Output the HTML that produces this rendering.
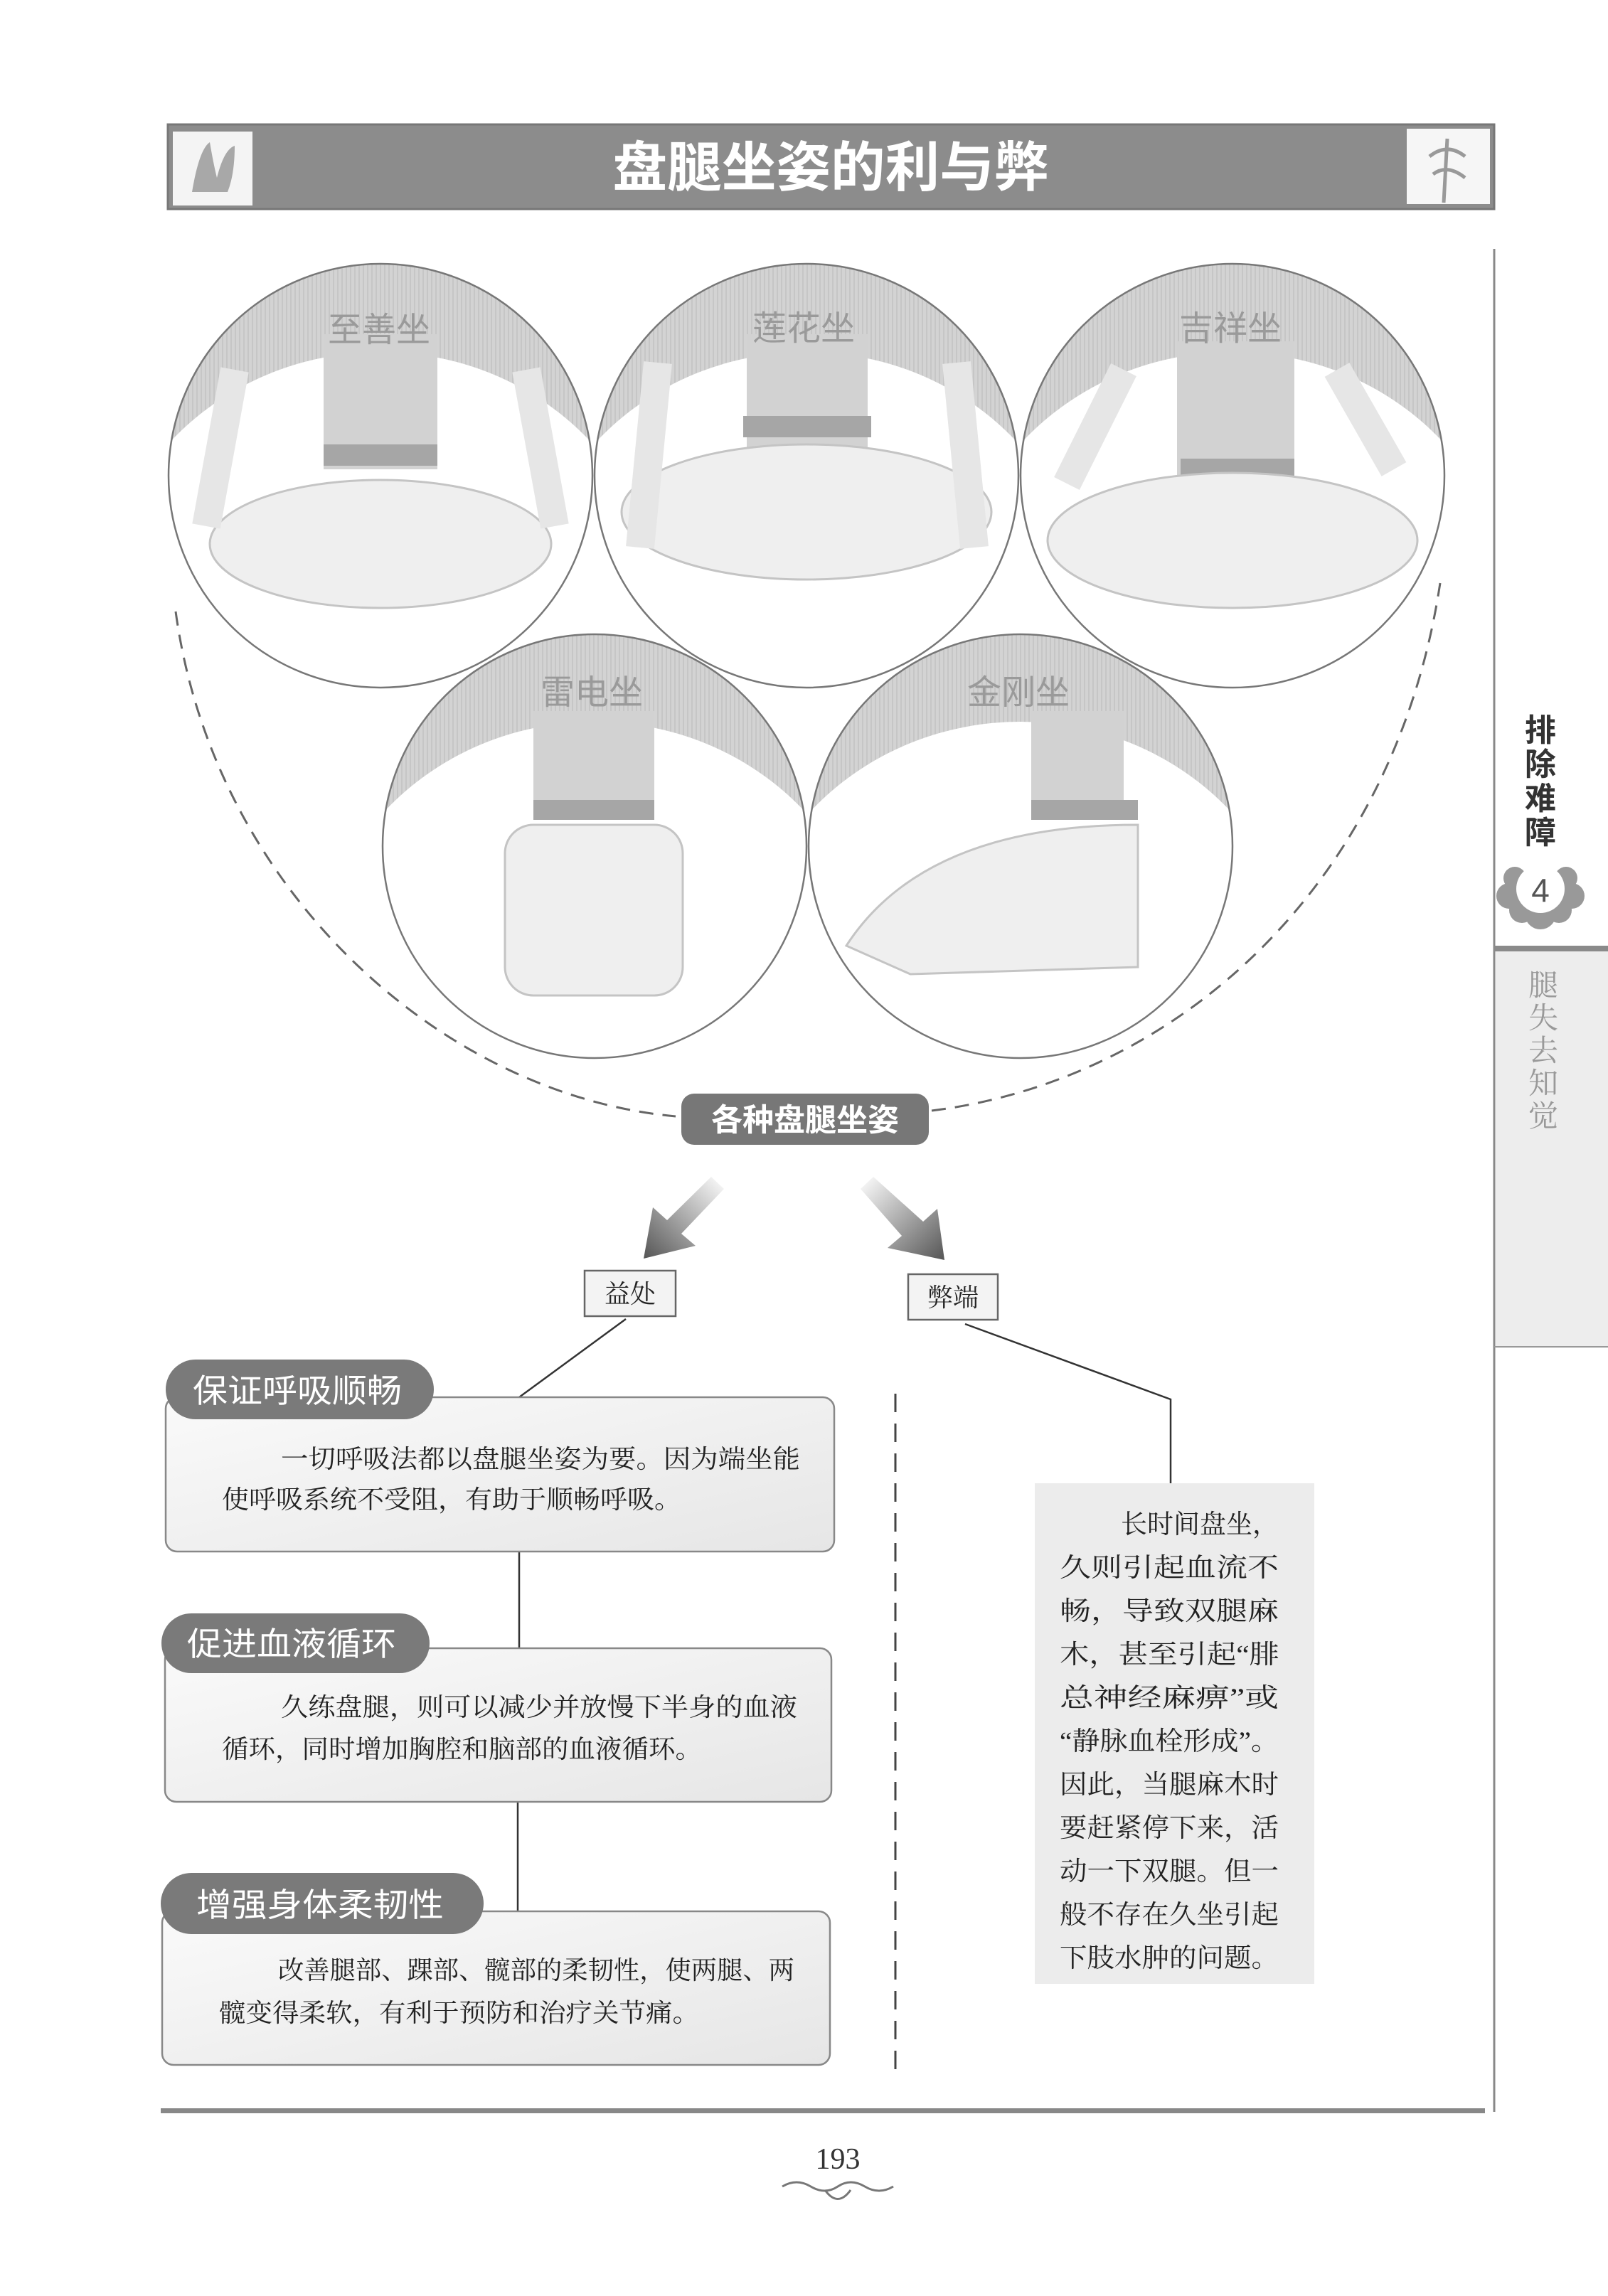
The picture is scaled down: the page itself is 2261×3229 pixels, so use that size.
<!DOCTYPE html>
<html><head><meta charset="utf-8"><style>
html,body{margin:0;padding:0;background:#fff}
svg{display:block}
.s{font-family:"Liberation Serif","Noto Serif CJK SC",serif}
.h{font-family:"Liberation Sans","Noto Sans CJK SC",sans-serif}
</style></head><body>
<svg width="2261" height="3229" viewBox="0 0 2261 3229" xmlns="http://www.w3.org/2000/svg">
<defs>
<pattern id="st" width="6" height="6" patternUnits="userSpaceOnUse"><rect width="6" height="6" fill="#d3d3d3"/><rect width="2" height="6" fill="#c6c6c6"/></pattern>
<linearGradient id="bx" x1="0" y1="0" x2="1" y2="1"><stop offset="0" stop-color="#fafafa"/><stop offset="1" stop-color="#e6e6e6"/></linearGradient>
<linearGradient id="ar1" x1="1" y1="0" x2="0" y2="1"><stop offset="0" stop-color="#fff"/><stop offset="1" stop-color="#555"/></linearGradient>
<linearGradient id="ar2" x1="0" y1="0" x2="1" y2="1"><stop offset="0" stop-color="#fff"/><stop offset="1" stop-color="#555"/></linearGradient>
<clipPath id="c1"><circle cx="535" cy="669" r="298"/></clipPath>
<clipPath id="c2"><circle cx="1134" cy="669" r="298"/></clipPath>
<clipPath id="c3"><circle cx="1733" cy="669" r="298"/></clipPath>
<clipPath id="c4"><circle cx="836" cy="1190" r="298"/></clipPath>
<clipPath id="c5"><circle cx="1435" cy="1190" r="298"/></clipPath>
</defs>

<!-- title bar -->
<rect x="236" y="175" width="1865" height="119" fill="#8c8c8c" stroke="#777" stroke-width="3"/>
<rect x="243" y="185" width="112" height="104" fill="#f4f4f4"/>
<path d="M270 270 q10 -60 25 -70 q5 30 10 50 q10 -40 25 -45 q0 40 -10 65 z" fill="#a8a8a8"/>
<rect x="1978" y="181" width="117" height="106" fill="#f6f6f6"/>
<path d="M2030 285 l5 -90 M2010 220 q25 -20 50 0 M2015 245 q20 -15 45 5" stroke="#999" stroke-width="5" fill="none"/>
<text x="1168" y="262" text-anchor="middle" class="h" font-size="76" font-weight="bold" fill="#fff" textLength="613" lengthAdjust="spacingAndGlyphs">盘腿坐姿的利与弊</text>

<!-- right margin -->
<line x1="2101" y1="350" x2="2101" y2="2970" stroke="#888" stroke-width="3"/>
<rect x="2103" y="1336" width="158" height="560" fill="#ededed"/>
<rect x="2101" y="1330" width="160" height="8" fill="#8a8a8a"/>
<line x1="2101" y1="1894" x2="2261" y2="1894" stroke="#999" stroke-width="2"/>
<g class="h" font-size="44" font-weight="bold" fill="#333" text-anchor="middle">
<text x="2166" y="1042">排</text><text x="2166" y="1090">除</text><text x="2166" y="1138">难</text><text x="2166" y="1186">障</text></g>
<g fill="#999"><circle cx="2122" cy="1260" r="18"/><circle cx="2210" cy="1260" r="18"/><circle cx="2130" cy="1235" r="16"/><circle cx="2202" cy="1235" r="16"/><circle cx="2166" cy="1285" r="22"/><circle cx="2140" cy="1280" r="18"/><circle cx="2192" cy="1280" r="18"/></g>
<circle cx="2166" cy="1250" r="34" fill="#fff"/>
<text x="2166" y="1268" text-anchor="middle" class="h" font-size="46" fill="#555">4</text>
<g class="s" font-size="42" fill="#999" text-anchor="middle">
<text x="2170" y="1400">腿</text><text x="2170" y="1446">失</text><text x="2170" y="1492">去</text><text x="2170" y="1538">知</text><text x="2170" y="1584">觉</text></g>

<!-- dashed arc -->
<path d="M247 860 C 300 1250 620 1540 950 1570" fill="none" stroke="#666" stroke-width="3" stroke-dasharray="20 13"/>
<path d="M1310 1562 C 1650 1520 1960 1250 2025 820" fill="none" stroke="#666" stroke-width="3" stroke-dasharray="20 13"/>

<!-- circles -->
<g clip-path="url(#c1)"><rect x="230" y="360" width="610" height="620" fill="url(#st)"/><ellipse cx="535" cy="870" rx="395" ry="375" fill="#fff"/>
<rect x="455" y="470" width="160" height="190" fill="#d2d2d2"/><rect x="455" y="625" width="160" height="30" fill="#a6a6a6"/>
<ellipse cx="535" cy="765" rx="240" ry="90" fill="#efefef" stroke="#c4c4c4" stroke-width="3"/><path d="M330 520 L290 740 M740 520 L780 740" stroke="#e6e6e6" stroke-width="40"/></g>
<circle cx="535" cy="669" r="298" fill="none" stroke="#777" stroke-width="2.5"/>
<g clip-path="url(#c2)"><rect x="830" y="360" width="610" height="620" fill="url(#st)"/><ellipse cx="1134" cy="870" rx="395" ry="375" fill="#fff"/>
<rect x="1050" y="470" width="170" height="170" fill="#d2d2d2"/><rect x="1045" y="585" width="180" height="30" fill="#a6a6a6"/>
<ellipse cx="1134" cy="720" rx="260" ry="95" fill="#efefef" stroke="#c4c4c4" stroke-width="3"/><path d="M925 510 L900 770 M1345 510 L1370 770" stroke="#e6e6e6" stroke-width="40"/></g>
<circle cx="1134" cy="669" r="298" fill="none" stroke="#777" stroke-width="2.5"/>
<g clip-path="url(#c3)"><rect x="1430" y="360" width="610" height="620" fill="url(#st)"/><ellipse cx="1733" cy="870" rx="395" ry="375" fill="#fff"/>
<rect x="1655" y="480" width="165" height="200" fill="#d2d2d2"/><rect x="1660" y="645" width="160" height="30" fill="#a6a6a6"/>
<ellipse cx="1733" cy="760" rx="260" ry="95" fill="#efefef" stroke="#c4c4c4" stroke-width="3"/><path d="M1580 520 L1500 680 M1880 520 L1960 660" stroke="#e6e6e6" stroke-width="40"/></g>
<circle cx="1733" cy="669" r="298" fill="none" stroke="#777" stroke-width="2.5"/>
<g clip-path="url(#c4)"><rect x="530" y="880" width="610" height="620" fill="url(#st)"/><ellipse cx="836" cy="1390" rx="395" ry="375" fill="#fff"/>
<rect x="750" y="1000" width="170" height="140" fill="#d2d2d2"/><rect x="750" y="1125" width="170" height="28" fill="#a6a6a6"/>
<rect x="710" y="1160" width="250" height="240" rx="40" fill="#efefef" stroke="#c4c4c4" stroke-width="3"/></g>
<circle cx="836" cy="1190" r="298" fill="none" stroke="#777" stroke-width="2.5"/>
<g clip-path="url(#c5)"><rect x="1130" y="880" width="610" height="620" fill="url(#st)"/><ellipse cx="1435" cy="1390" rx="395" ry="375" fill="#fff"/>
<rect x="1450" y="1000" width="130" height="150" fill="#d2d2d2"/><rect x="1450" y="1125" width="150" height="28" fill="#a6a6a6"/>
<path d="M1190 1330 Q1300 1160 1600 1160 L1600 1360 L1280 1370 Z" fill="#efefef" stroke="#c4c4c4" stroke-width="3"/></g>
<circle cx="1435" cy="1190" r="298" fill="none" stroke="#777" stroke-width="2.5"/>

<g class="h" font-size="48" fill="#9a9a9a" text-anchor="middle">
<text x="533" y="480">至善坐</text><text x="1130" y="478">莲花坐</text><text x="1730" y="478">吉祥坐</text>
<text x="832" y="990">雷电坐</text><text x="1432" y="990">金刚坐</text></g>

<!-- center node -->
<rect x="958" y="1538" width="348" height="72" rx="18" fill="#777"/>
<text x="1132" y="1590" text-anchor="middle" class="h" font-size="44" font-weight="bold" fill="#fff">各种盘腿坐姿</text>

<!-- arrows -->
<path d="M1000 1655 L1018 1672 L958 1735 L978 1752 L905 1770 L918 1698 L938 1716 Z" fill="url(#ar1)"/>
<path d="M1228 1655 L1210 1672 L1268 1738 L1248 1755 L1328 1772 L1318 1700 L1298 1718 Z" fill="url(#ar2)"/>

<!-- labels boxes -->
<rect x="822" y="1787" width="128" height="64" fill="#f3f3f3" stroke="#666" stroke-width="2.5"/>
<text x="886" y="1832" text-anchor="middle" class="s" font-size="36" fill="#222">益处</text>
<rect x="1277" y="1792" width="126" height="64" fill="#f3f3f3" stroke="#666" stroke-width="2.5"/>
<text x="1340" y="1837" text-anchor="middle" class="s" font-size="36" fill="#222">弊端</text>

<!-- connectors -->
<g stroke="#333" stroke-width="2.5" fill="none">
<path d="M880 1855 L730 1965"/>
<path d="M1357 1862 L1646 1968 L1646 2086"/>
<path d="M730 2182 L730 2318"/>
<path d="M728 2534 L728 2688"/>
</g>
<line x1="1259" y1="1960" x2="1259" y2="2912" stroke="#444" stroke-width="3" stroke-dasharray="26 16"/>

<!-- left boxes -->
<rect x="233" y="1965" width="940" height="217" rx="16" fill="url(#bx)" stroke="#888" stroke-width="2.5"/>
<rect x="233" y="1912" width="377" height="84" rx="42" fill="#7a7a7a"/>
<text x="418" y="1972" text-anchor="middle" class="h" font-size="46" fill="#fff" textLength="294" lengthAdjust="spacingAndGlyphs">保证呼吸顺畅</text>
<g class="s" font-size="36" fill="#222">
<text x="395" y="2064" textLength="730" lengthAdjust="spacingAndGlyphs">一切呼吸法都以盘腿坐姿为要。因为端坐能</text>
<text x="312" y="2121" textLength="646" lengthAdjust="spacingAndGlyphs">使呼吸系统不受阻，有助于顺畅呼吸。</text></g>

<rect x="232" y="2318" width="937" height="216" rx="16" fill="url(#bx)" stroke="#888" stroke-width="2.5"/>
<rect x="227" y="2269" width="377" height="84" rx="42" fill="#7a7a7a"/>
<text x="410" y="2328" text-anchor="middle" class="h" font-size="46" fill="#fff" textLength="294" lengthAdjust="spacingAndGlyphs">促进血液循环</text>
<g class="s" font-size="36" fill="#222">
<text x="395" y="2413" textLength="726" lengthAdjust="spacingAndGlyphs">久练盘腿，则可以减少并放慢下半身的血液</text>
<text x="312" y="2472" textLength="675" lengthAdjust="spacingAndGlyphs">循环，同时增加胸腔和脑部的血液循环。</text></g>

<rect x="228" y="2688" width="939" height="216" rx="16" fill="url(#bx)" stroke="#888" stroke-width="2.5"/>
<rect x="226" y="2634" width="454" height="86" rx="43" fill="#7a7a7a"/>
<text x="450" y="2695" text-anchor="middle" class="h" font-size="46" fill="#fff" textLength="348" lengthAdjust="spacingAndGlyphs">增强身体柔韧性</text>
<g class="s" font-size="36" fill="#222">
<text x="391" y="2783" textLength="726" lengthAdjust="spacingAndGlyphs">改善腿部、踝部、髋部的柔韧性，使两腿、两</text>
<text x="308" y="2843" textLength="675" lengthAdjust="spacingAndGlyphs">髋变得柔软，有利于预防和治疗关节痛。</text></g>

<!-- right box -->
<rect x="1455" y="2086" width="393" height="704" fill="#ececec"/>
<g class="s" font-size="37" fill="#222">
<text x="1576" y="2156" textLength="222" lengthAdjust="spacingAndGlyphs">长时间盘坐，</text>
<text x="1490" y="2217" textLength="308" lengthAdjust="spacingAndGlyphs">久则引起血流不</text>
<text x="1490" y="2278" textLength="308" lengthAdjust="spacingAndGlyphs">畅，导致双腿麻</text>
<text x="1490" y="2339" textLength="308" lengthAdjust="spacingAndGlyphs">木，甚至引起“腓</text>
<text x="1490" y="2400" textLength="308" lengthAdjust="spacingAndGlyphs">总神经麻痹”或</text>
<text x="1490" y="2461" textLength="308" lengthAdjust="spacingAndGlyphs">“静脉血栓形成”。</text>
<text x="1490" y="2522" textLength="308" lengthAdjust="spacingAndGlyphs">因此，当腿麻木时</text>
<text x="1490" y="2583" textLength="308" lengthAdjust="spacingAndGlyphs">要赶紧停下来，活</text>
<text x="1490" y="2644" textLength="308" lengthAdjust="spacingAndGlyphs">动一下双腿。但一</text>
<text x="1490" y="2705" textLength="308" lengthAdjust="spacingAndGlyphs">般不存在久坐引起</text>
<text x="1490" y="2766" textLength="308" lengthAdjust="spacingAndGlyphs">下肢水肿的问题。</text></g>

<!-- footer -->
<rect x="226" y="2965" width="1862" height="7" fill="#888"/>
<text x="1178" y="3050" text-anchor="middle" class="s" font-size="42" fill="#333">193</text>
<path d="M1100 3075 q20 -12 40 0 q20 12 38 0 q18 -12 38 0 q20 12 40 0 M1160 3080 q18 25 36 0" stroke="#777" stroke-width="3" fill="none"/>
</svg>
</body></html>
